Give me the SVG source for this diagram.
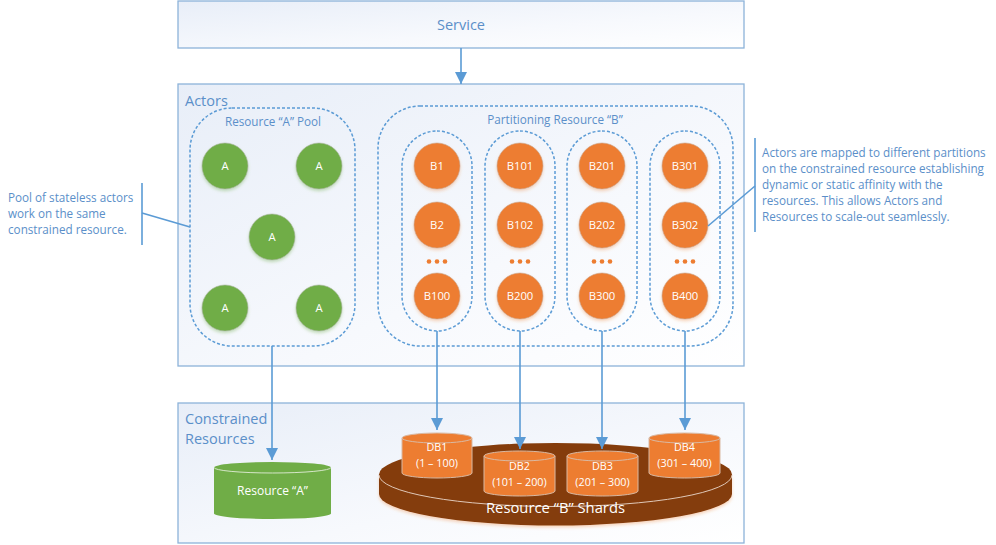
<svg xmlns="http://www.w3.org/2000/svg" width="996" height="545" viewBox="0 0 996 545">
<style>
text{font-family:"Open Sans","Noto Sans","Liberation Sans",sans-serif}
.box{fill:url(#bg);stroke:#8db3d9;stroke-width:1.3}
.dash{fill:none;stroke:#5b9bd5;stroke-width:1.5;stroke-dasharray:3 2}
.lbl{fill:#5b8fc9;font-size:11.7px}
.big{fill:#5b8fc9;font-size:14.5px}
.c{text-anchor:middle}
.w{fill:#fff;font-size:11.3px;text-anchor:middle}
.d{fill:#fff;font-size:10.8px;text-anchor:middle}
.g{fill:#70ad47;stroke:#a9b59f;stroke-width:.6;filter:url(#sg)}
.o{fill:#ed7d31;stroke:#c9a48c;stroke-width:.6;filter:url(#so)}
.link{fill:none;stroke:#5b9bd5;stroke-width:1.6}
.arr{fill:none;stroke:#5b9bd5;stroke-width:1.6;marker-end:url(#ah)}
.dot{fill:#ed7d31}
.cyl{fill:#ed7d31;stroke:#d9b9a3;stroke-width:1}
</style>
<defs>
<linearGradient id="bg" x1="0" y1="0" x2="1" y2="1"><stop offset="0" stop-color="#e8eef8"/><stop offset="0.6" stop-color="#f7f9fd"/><stop offset="1" stop-color="#ffffff"/></linearGradient>
<filter id="sg" x="-20%" y="-20%" width="140%" height="150%"><feDropShadow dx="0" dy="2" stdDeviation="1.5" flood-color="#70ad47" flood-opacity="0.35"/></filter>
<filter id="so" x="-20%" y="-20%" width="140%" height="150%"><feDropShadow dx="0" dy="2" stdDeviation="1.5" flood-color="#ed7d31" flood-opacity="0.3"/></filter>
<marker id="ah" markerUnits="userSpaceOnUse" markerWidth="12" markerHeight="12" refX="12" refY="6" orient="auto"><path d="M0 0L12 6L0 12Z" fill="#5b9bd5"/></marker>
</defs>

<g id="service"><rect class="box" x="178" y="1" width="566" height="47"/><text class="c" x="461" y="30" fill="#5b8fc9" font-size="14.500">Service</text></g>
<g id="actors"><rect class="box" x="178" y="84" width="566" height="282"/><text class="big" x="185" y="106">Actors</text></g>
<g id="constrained"><rect class="box" x="178" y="403" width="566" height="140"/><text class="big" x="185" y="424">Constrained</text><text class="big" x="185" y="444">Resources</text></g>

<g id="pool"><rect class="dash" x="190" y="108" width="165" height="238" rx="42"/><text class="lbl c" x="273" y="126">Resource “A” Pool</text></g>
<g id="partition"><rect class="dash" x="378" y="106" width="355" height="240" rx="42"/><text class="lbl c" x="555" y="124">Partitioning Resource “B”</text></g>
<g id="col1"><rect class="dash" x="402" y="131" width="70" height="200" rx="35"/></g>
<g id="col2"><rect class="dash" x="485" y="131" width="70" height="200" rx="35"/></g>
<g id="col3"><rect class="dash" x="567" y="131" width="70" height="200" rx="35"/></g>
<g id="col4"><rect class="dash" x="650" y="131" width="70" height="200" rx="35"/></g>

<g id="a1"><circle class="g" cx="225" cy="166" r="23"/><text class="w" x="225" y="170">A</text></g>
<g id="a2"><circle class="g" cx="319" cy="166" r="23"/><text class="w" x="319" y="170">A</text></g>
<g id="a3"><circle class="g" cx="272" cy="237" r="23"/><text class="w" x="272" y="241">A</text></g>
<g id="a4"><circle class="g" cx="225" cy="308" r="23"/><text class="w" x="225" y="312">A</text></g>
<g id="a5"><circle class="g" cx="319" cy="308" r="23"/><text class="w" x="319" y="312">A</text></g>

<g id="b1"><circle class="o" cx="437" cy="166" r="23"/><text class="w" x="437" y="170">B1</text></g>
<g id="b2"><circle class="o" cx="437" cy="225" r="23"/><text class="w" x="437" y="229">B2</text></g>
<g id="b100"><circle class="o" cx="437" cy="296" r="23"/><text class="w" x="437" y="300">B100</text></g>
<g id="b101"><circle class="o" cx="520" cy="166" r="23"/><text class="w" x="520" y="170">B101</text></g>
<g id="b102"><circle class="o" cx="520" cy="225" r="23"/><text class="w" x="520" y="229">B102</text></g>
<g id="b200"><circle class="o" cx="520" cy="296" r="23"/><text class="w" x="520" y="300">B200</text></g>
<g id="b201"><circle class="o" cx="602" cy="166" r="23"/><text class="w" x="602" y="170">B201</text></g>
<g id="b202"><circle class="o" cx="602" cy="225" r="23"/><text class="w" x="602" y="229">B202</text></g>
<g id="b300"><circle class="o" cx="602" cy="296" r="23"/><text class="w" x="602" y="300">B300</text></g>
<g id="b301"><circle class="o" cx="685" cy="166" r="23"/><text class="w" x="685" y="170">B301</text></g>
<g id="b302"><circle class="o" cx="685" cy="225" r="23"/><text class="w" x="685" y="229">B302</text></g>
<g id="b400"><circle class="o" cx="685" cy="296" r="23"/><text class="w" x="685" y="300">B400</text></g>

<g id="ellipsis">
<circle class="dot" cx="429" cy="261.500" r="2.300"/><circle class="dot" cx="437" cy="261.500" r="2.300"/><circle class="dot" cx="445" cy="261.500" r="2.300"/>
<circle class="dot" cx="512" cy="261.500" r="2.300"/><circle class="dot" cx="520" cy="261.500" r="2.300"/><circle class="dot" cx="528" cy="261.500" r="2.300"/>
<circle class="dot" cx="594" cy="261.500" r="2.300"/><circle class="dot" cx="602" cy="261.500" r="2.300"/><circle class="dot" cx="610" cy="261.500" r="2.300"/>
<circle class="dot" cx="677" cy="261.500" r="2.300"/><circle class="dot" cx="685" cy="261.500" r="2.300"/><circle class="dot" cx="693" cy="261.500" r="2.300"/>
</g>

<g id="platter">
<path d="M379 475V494A176.500 31.500 0 0 0 732 494V475Z" fill="#843c0c" filter="url(#so)"/>
<ellipse cx="555.500" cy="474.500" rx="176.500" ry="31.500" fill="#843c0c"/>
<path d="M379 475A176.500 31.500 0 0 0 732 475" fill="none" stroke="#e0c8b8" stroke-width="1"/>
<text class="c" x="555.500" y="513" fill="#fff" font-size="14.800">Resource “B” Shards</text>
</g>

<g id="resource-a">
<path d="M214 467.500V513.500A58.500 5.500 0 0 0 331 513.500V467.500A58.500 5.500 0 0 0 214 467.500Z" fill="#70ad47"/>
<path d="M214 467.500A58.500 5.500 0 0 0 331 467.500" fill="none" stroke="#d5e6c8" stroke-width="1"/>
<text class="w" style="font-size:12px" x="272.500" y="495">Resource “A”</text>
</g>
<g id="db1">
<path class="cyl" d="M402 438V473A35 5 0 0 0 472 473V438A35 5 0 0 0 402 438Z"/><path class="cyl" style="fill:none" d="M402 438A35 5 0 0 0 472 438"/>
<text class="d" x="437" y="451">DB1</text><text class="d" x="437" y="467">(1 – 100)</text>
</g>
<g id="db2">
<path class="cyl" d="M484 456V491A35.500 5 0 0 0 555 491V456A35.500 5 0 0 0 484 456Z"/><path class="cyl" style="fill:none" d="M484 456A35.500 5 0 0 0 555 456"/>
<text class="d" x="519.500" y="470">DB2</text><text class="d" x="519.500" y="486">(101 – 200)</text>
</g>
<g id="db3">
<path class="cyl" d="M567 456V491A35.500 5 0 0 0 638 491V456A35.500 5 0 0 0 567 456Z"/><path class="cyl" style="fill:none" d="M567 456A35.500 5 0 0 0 638 456"/>
<text class="d" x="602.500" y="470">DB3</text><text class="d" x="602.500" y="486">(201 – 300)</text>
</g>
<g id="db4">
<path class="cyl" d="M649 438V473A35.500 5 0 0 0 720 473V438A35.500 5 0 0 0 649 438Z"/><path class="cyl" style="fill:none" d="M649 438A35.500 5 0 0 0 720 438"/>
<text class="d" x="684.500" y="451">DB4</text><text class="d" x="684.500" y="467">(301 – 400)</text>
</g>

<g id="connectors">
<path class="arr" d="M461 48V84"/>
<path class="arr" d="M272 346V460"/>
<path class="arr" d="M437 331V430"/>
<path class="arr" d="M520 331V449"/>
<path class="arr" d="M602 331V449"/>
<path class="arr" d="M685 331V430"/>
<path class="link" d="M755 138V232"/>
<path class="link" d="M708 226L755 186"/>
<path class="link" d="M142 183V245"/>
<path class="link" d="M142 213L190 227"/>
</g>

<g id="note-left" class="lbl">
<text x="8" y="202">Pool of stateless actors</text>
<text x="8" y="218">work on the same</text>
<text x="8" y="234">constrained resource.</text>
</g>
<g id="note-right" class="lbl">
<text x="762" y="157">Actors are mapped to different partitions</text>
<text x="762" y="173">on the constrained resource establishing</text>
<text x="762" y="189">dynamic or static affinity with the</text>
<text x="762" y="205">resources. This allows Actors and</text>
<text x="762" y="221">Resources to scale-out seamlessly.</text>
</g>
</svg>
